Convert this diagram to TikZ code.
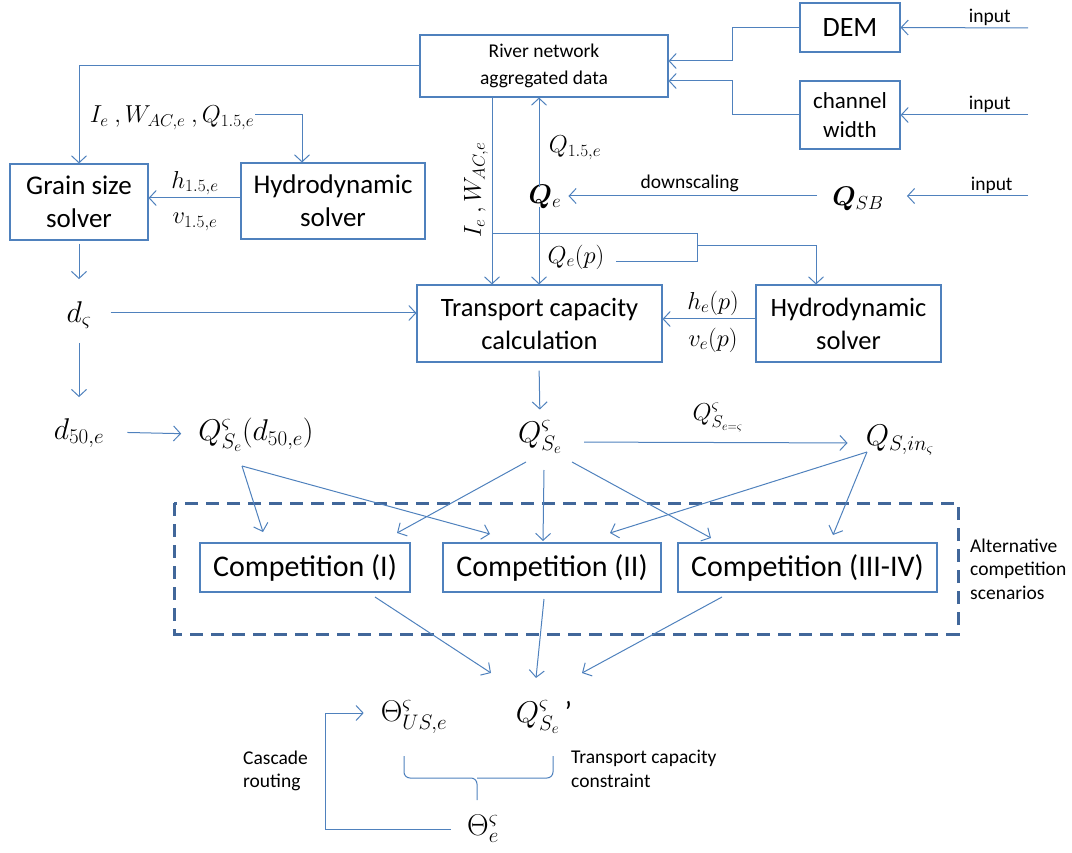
\documentclass[tikz,border=0pt]{standalone}
\usepackage{fix-cm}
\usepackage{amsmath,bm}
\usepackage[no-math]{fontspec}
\setmainfont{Carlito}
\usetikzlibrary{arrows.meta}
\definecolor{lineblue}{HTML}{4F81BD}
\definecolor{dashblue}{HTML}{41679A}
\tikzset{>={Straight Barb[length=7pt,width=15pt]}}
\tikzset{
  box/.style={draw=lineblue, line width=1.1pt, align=center, inner sep=0pt},
  conn/.style={draw=lineblue, line width=1pt},
  mlbl/.style={inner sep=1pt, font=\fontsize{24.5}{28}\selectfont},
  qty/.style={inner sep=1pt, font=\fontsize{30}{34}\selectfont},
  slbl/.style={inner sep=1pt, align=left, font=\fontsize{19.5}{23.5}\selectfont}
}

\begin{document}
\begin{tikzpicture}[x=1pt,y=-1pt]
  \useasboundingbox (0,0) rectangle (1072,853);

  % boxes
  \node[box, minimum width=248pt, minimum height=62pt, font=\fontsize{19.5}{27}\selectfont] (river) at (544,66) {River network\\aggregated data};
  \node[box, minimum width=100pt, minimum height=49pt, font=\fontsize{28}{32}\selectfont] (dem) at (850,27.5) {DEM};
  \node[box, minimum width=100pt, minimum height=68pt, font=\fontsize{23}{29}\selectfont] (chw) at (850,115) {channel\\width};
  \node[box, minimum width=138pt, minimum height=76pt, font=\fontsize{27}{33}\selectfont] (grain) at (79,202) {Grain size\\solver};
  \node[box, minimum width=184pt, minimum height=76pt, font=\fontsize{27}{33}\selectfont] (hydroL) at (333,201) {Hydrodynamic\\solver};
  \node[box, minimum width=245pt, minimum height=77pt, font=\fontsize{26.5}{33}\selectfont] (trans) at (539.5,323.5) {Transport capacity\\calculation};
  \node[box, minimum width=185pt, minimum height=77pt, font=\fontsize{26.5}{33}\selectfont] (hydroR) at (848.5,323.5) {Hydrodynamic\\solver};
  \node[box, minimum width=210pt, minimum height=49pt, font=\fontsize{30}{34}\selectfont] (compI) at (305,567.5) {Competition (I)};
  \node[box, minimum width=218pt, minimum height=49pt, font=\fontsize{30}{34}\selectfont] (compII) at (552,567.5) {Competition (II)};
  \node[box, minimum width=259pt, minimum height=49pt, font=\fontsize{30}{34}\selectfont] (compIII) at (807.5,567.5) {Competition (III-IV)};
  \draw[dashblue, line width=3pt, dash pattern=on 13pt off 8pt] (174,503) rectangle (958,634);

  % quantities
  \node[qty, font=\fontsize{27}{32}\selectfont] (qe) at (545,197) {$\bm{Q}_e$};
  \node[qty, font=\fontsize{27}{32}\selectfont] (qsb) at (858,199) {$\bm{Q}_{SB}$};
  \node[qty] (ds) at (79,315) {$d_{\varsigma}$};
  \node[qty] (d50) at (79,433) {$d_{50,e}$};
  \node[qty] (qsd50) at (256,435) {$Q^{\varsigma}_{S_e}(d_{50,e})$};
  \node[qty] (qse) at (540,437) {$Q^{\varsigma}_{S_e}$};
  \node[qty] (qsin) at (900,440) {$Q_{S,in_{\varsigma}}$};
  \node[qty] (theUS) at (414,717) {$\Theta^{\varsigma}_{US,e}$};
  \node[qty] (qsep) at (544,717) {$Q^{\varsigma}_{S_e}$\,'};
  \node[qty] (thee) at (483,829) {$\Theta^{\varsigma}_{e}$};

  % labels
  \node[mlbl] (lIWQ) at (172,118) {$I_e\ ,W_{AC,e}\ ,Q_{1.5,e}$};
  \node[mlbl, rotate=90] (lIW) at (476,190) {$I_e\ ,W_{AC,e}$};
  \node[mlbl] (lQ15) at (575,148) {$Q_{1.5,e}$};
  \node[mlbl] (lh15) at (195,183) {$h_{1.5,e}$};
  \node[mlbl] (lv15) at (195,222) {$v_{1.5,e}$};
  \node[mlbl] (lhe) at (713,303) {$h_e(p)$};
  \node[mlbl] (lve) at (713,340) {$v_e(p)$};
  \node[mlbl] (lqep) at (576,257) {$Q_e(p)$};
  \node[mlbl] (lqs) at (718,417) {$Q^{\varsigma}_{S_{e=\varsigma}}$};
  \node[slbl, anchor=west] (alt) at (969,569) {Alternative\\competition\\scenarios};
  \node[slbl, anchor=west] (casc) at (242,771) {Cascade\\routing};
  \node[slbl, anchor=west] (tcc) at (570,769) {Transport capacity\\constraint};

  % free ends
  \coordinate (in1) at (1028,28);
  \coordinate (in2) at (1028,115);
  \coordinate (in3) at (1028,196);
  \coordinate (iwtop) at (492,97);
  \coordinate (brA) at (492,234);
  \coordinate (brB) at (697,262);
  \coordinate (brC) at (616,262);
  \coordinate (brD) at (697,246);

  % connectors
  \draw[conn,->] (in1) -- node[slbl, above=1pt, pos=0.3] {input} (dem.east);
  \draw[conn,->] (in2) -- node[slbl, above=1pt, pos=0.3] {input} (chw.east);
  \draw[conn,->] (in3) -- node[slbl, above=1pt, pos=0.3] {input} ([xshift=22pt,yshift=3pt]qsb.east);
  \draw[conn,->] (dem.west) -- ++(-67,0) |- ([yshift=5pt]river.east);
  \draw[conn,->] (chw.west) -- ++(-67,0) |- ([yshift=-15pt]river.east);
  \draw[conn,->, shorten >=6pt] ([xshift=-14pt,yshift=3pt]qsb.west) -- node[slbl, above=3pt] {downscaling} ([yshift=1pt]qe.east);
  \draw[conn,->] ([xshift=-6pt,yshift=-3pt]qe.north) -- ([xshift=-6pt]qe.north |- river.south);
  \draw[conn,->] ([xshift=-6pt,yshift=3pt]qe.south) -- ([xshift=-6pt]qe.south |- trans.north);
  \draw[conn,->] (iwtop) -- (iwtop |- trans.north);
  \draw[conn] (brA) -| (brB) -- (brC);
  \draw[conn,->] (brD) -| ([xshift=-32.5pt]hydroR.north);
  \draw[conn,->] ([yshift=4.5pt]hydroR.west) -- ([yshift=4.5pt]trans.east);
  \draw[conn,->] (river.west) -| (grain.north);
  \draw[conn,->] ([yshift=3pt]lIWQ.east) -| ([xshift=-31pt]hydroL.north);
  \draw[conn,->] ([yshift=3pt]hydroL.west) -- ([yshift=4pt]grain.east);
  \draw[conn,->, shorten <=3pt, shorten >=21pt] (grain.south) -- (ds.north);
  \draw[conn,->, shorten <=18pt] ([yshift=2pt]ds.east) -- ([yshift=2pt]ds.east -| trans.west);
  \draw[conn,->, shorten <=13pt, shorten >=20pt] (ds.south) -- (d50.north);
  \draw[conn,->, shorten <=22pt, shorten >=16pt] ([yshift=1pt]d50.east) -- ([yshift=1pt]qsd50.west);
  \draw[conn,->, shorten <=8pt, shorten >=10pt] ([xshift=-0.5pt]trans.south) -- (qse.north);
  \draw[conn,->, shorten <=21pt, shorten >=17pt] ([yshift=-5pt]qse.east) -- ([yshift=-3pt]qsin.west);

  % fan into the competition scenarios
  \draw[conn,->] ([xshift=-14pt,yshift=-31pt]qsd50.center) -- ([xshift=-42pt,yshift=35.5pt]compI.center);
  \draw[conn,->] ([xshift=-14pt,yshift=-31pt]qsd50.center) -- ([xshift=-62pt,yshift=33.5pt]compII.center);
  \draw[conn,->] ([xshift=-14pt,yshift=-25pt]qse.center) -- ([xshift=92pt,yshift=34.5pt]compI.center);
  \draw[conn,->] ([xshift=4pt,yshift=-33pt]qse.center) -- ([xshift=-9pt,yshift=26.5pt]compII.center);
  \draw[conn,->] ([xshift=32pt,yshift=-25pt]qse.center) -- ([xshift=-96.5pt,yshift=29.5pt]compIII.center);
  \draw[conn,->] ([xshift=-33pt,yshift=-12pt]qsin.center) -- ([xshift=58pt,yshift=34.5pt]compII.center);
  \draw[conn,->] ([xshift=-33pt,yshift=-12pt]qsin.center) -- ([xshift=25.5pt,yshift=32.5pt]compIII.center);
  \draw[conn,->] ([xshift=70pt,yshift=-29.5pt]compI.center) -- ([xshift=-53pt,yshift=44pt]qsep.center);
  \draw[conn,->] ([xshift=-8pt,yshift=-31.5pt]compII.center) -- ([xshift=-8pt,yshift=39pt]qsep.center);
  \draw[conn,->] ([xshift=-85.5pt,yshift=-29.5pt]compIII.center) -- ([xshift=38pt,yshift=44pt]qsep.center);

  % constraint brace and cascade routing
  \coordinate (bL) at (404,756);
  \coordinate (bR) at (553,756);
  \coordinate (bM) at (477,800);
  \draw[conn, rounded corners=6pt] (bL) -- ++(0,22) -- ([yshift=22pt]bM) -- (bM);
  \draw[conn, rounded corners=6pt] (bR) -- ++(0,22) -- ([yshift=22pt]bM);
  \draw[conn,->, shorten >=16pt] ([xshift=-15pt]thee.west) -- ++(-125,0) |- ([yshift=4pt]theUS.west);
\end{tikzpicture}
\end{document}
